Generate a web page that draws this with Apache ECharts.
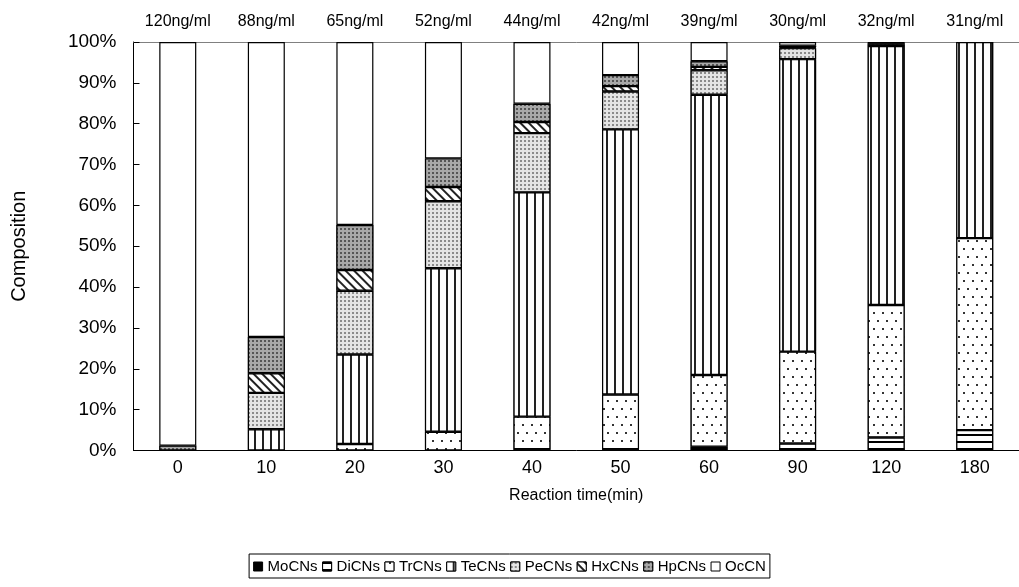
<!DOCTYPE html>
<html>
<head>
<meta charset="utf-8">
<script src="https://cdn.jsdelivr.net/npm/echarts@6/dist/echarts.min.js"></script>
<style>html,body{margin:0;padding:0;background:#fff}#c{width:1019px;height:587px}</style>
</head>
<body>
<div id="c"></div>
<script>
var categories = ['0','10','20','30','40','50','60','90','120','180'];
var concLabels = ['120ng/ml','88ng/ml','65ng/ml','52ng/ml','44ng/ml','42ng/ml','39ng/ml','30ng/ml','32ng/ml','31ng/ml'];
var yTicks = [0,10,20,30,40,50,60,70,80,90,100];
var seriesNames = ['MoCNs','DiCNs','TrCNs','TeCNs','PeCNs','HxCNs','HpCNs','OcCN'];
var MoCNs = [0,0,0,0,0,0,0,0,0,0];
var DiCNs = [0,0,0,0,0.3,0.3,0.9,1.7,3.2,5.0];
var TrCNs = [0,0,1.6,4.6,8.0,13.4,17.6,22.5,32.4,47.0];
var TeCNs = [0,5.2,21.9,40.0,54.9,64.9,68.6,71.6,63.4,48.0];
var PeCNs = [0,8.9,15.6,16.4,14.5,9.3,6.0,2.7,0,0];
var HxCNs = [0,4.8,5.1,3.5,2.7,1.3,0.8,0.2,0.3,0];
var HpCNs = [1.2,8.9,11.0,7.0,4.5,2.7,1.4,0.4,0.4,0];
var OcCN = [98.8,72.2,44.8,28.5,15.1,8.1,4.7,0.9,0.3,0];
var values = [MoCNs,DiCNs,TrCNs,TeCNs,PeCNs,HxCNs,HpCNs,OcCN];

var FONT = "'Liberation Sans', Arial, sans-serif";
var styles = [
  {color:'#000'},
  {color:'#fff', decal:{symbol:'rect', color:'#000', backgroundColor:'#fff', dashArrayX:[1,0], dashArrayY:[1.3,4.7], rotation:0}},
  {color:'#fff', decal:{symbol:'rect', color:'#333', backgroundColor:'#fff', dashArrayX:[[1.3,6.5],[0,3.9,1.3,2.6]], dashArrayY:[1.3,5.4], rotation:0}},
  {color:'#fff', decal:{symbol:'rect', color:'#222', backgroundColor:'#fff', dashArrayX:[1,0], dashArrayY:[1.5,5.8], rotation:Math.PI/2}},
  {color:'#ddd', decal:{symbol:'rect', color:'#8a8a8a', backgroundColor:'#e4e4e4', dashArrayX:[1.5,1.5], dashArrayY:[1.5,1.5], rotation:0}},
  {color:'#fff', decal:{symbol:'rect', color:'#222', backgroundColor:'#fff', dashArrayX:[1,0], dashArrayY:[1.6,3.4], rotation:Math.PI/4}},
  {color:'#888', decal:{symbol:'rect', color:'#555', backgroundColor:'#a8a8a8', dashArrayX:[1.5,1.5], dashArrayY:[1.5,1.5], rotation:0}},
  {color:'#fff'}
];

var series = seriesNames.map(function(n, i){
  var st = styles[i];
  var it = {color: st.color, borderColor:'#000', borderWidth:1.2};
  if (st.decal) it.decal = st.decal;
  return {
    name: n, type:'bar', stack:'total', barWidth:37,
    data: values[i].map(function(v){ return v === 0 ? null : v; }),
    itemStyle: it,
    emphasis:{disabled:true}
  };
});

var chart = echarts.init(document.getElementById('c'), null, {renderer:'canvas'});
chart.setOption({
  animation:false,
  textStyle:{fontFamily:FONT},
  grid:{left:133.5, right:-6.2, top:42, bottom:136.5, containLabel:false},
  legend:{
    data: seriesNames, bottom:9, left:'center', icon:'rect', itemWidth:9, itemHeight:9, itemGap:4.5,
    borderColor:'#000', borderWidth:1, padding:[5,4,4,4],
    itemStyle:{borderWidth:1},
    textStyle:{fontFamily:FONT, fontSize:15, color:'#000'},
    selectedMode:false
  },
  xAxis:[{
    type:'category', data:categories, position:'bottom',
    name:'Reaction time(min)', nameLocation:'middle', nameGap:37,
    nameTextStyle:{fontFamily:FONT, fontSize:16, color:'#000'},
    axisLine:{lineStyle:{color:'#000', width:1}},
    axisTick:{inside:true, length:6, lineStyle:{color:'#000'}},
    axisLabel:{fontFamily:FONT, fontSize:18, color:'#000', margin:9},
    splitLine:{show:false}
  },{
    type:'category', data:concLabels, position:'top',
    axisLine:{lineStyle:{color:'#808080', width:1}},
    axisTick:{show:false},
    axisLabel:{fontFamily:FONT, fontSize:16, color:'#000', margin:12},
    splitLine:{show:false}
  }],
  yAxis:{
    type:'value', min:yTicks[0], max:yTicks[yTicks.length-1], interval:10,
    name:'Composition', nameLocation:'middle', nameGap:104,
    nameTextStyle:{fontFamily:FONT, fontSize:20, color:'#000'},
    axisLine:{show:true, lineStyle:{color:'#000', width:1}},
    axisTick:{show:true, inside:true, length:6, lineStyle:{color:'#000'}},
    axisLabel:{fontFamily:FONT, fontSize:19, color:'#000', margin:17, formatter:'{value}%'},
    splitLine:{show:false}
  },
  series: series
});
</script>
</body>
</html>
